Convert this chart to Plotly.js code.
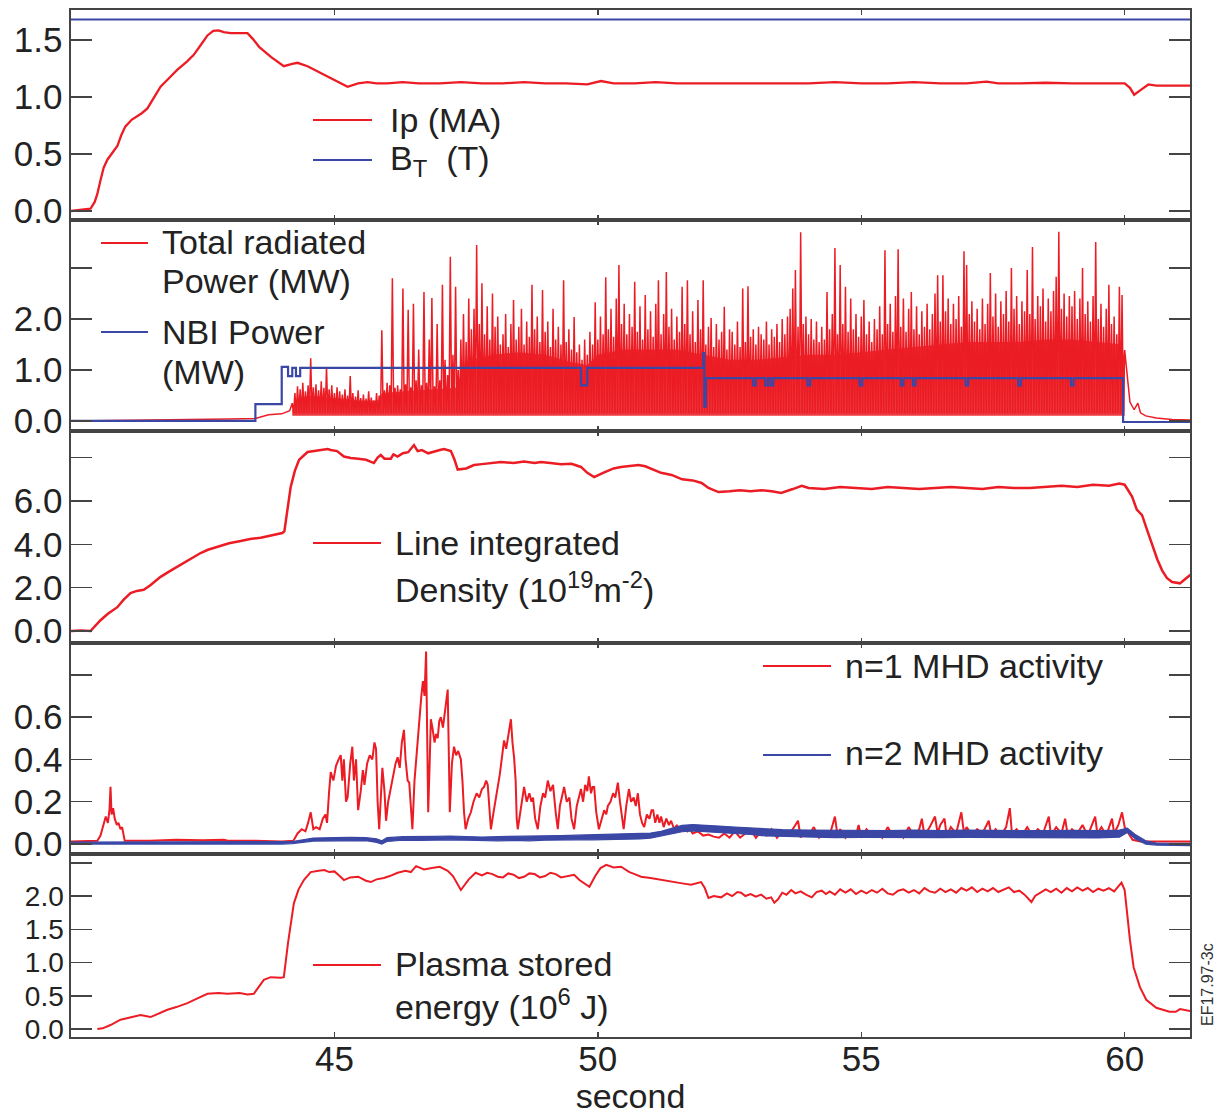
<!DOCTYPE html>
<html><head><meta charset="utf-8">
<script src="https://cdn.plot.ly/plotly-3.0.1.min.js"></script>
<style>html,body{margin:0;padding:0;background:#fff}#chart{width:1219px;height:1115px}</style>
</head><body><div id="chart"></div>
<script>
// ---------------- data ----------------
// Panel 1: plasma current Ip (MA), toroidal field BT (T)
const ipPts = [[40.0,0.0],[40.2,0.01],[40.37,0.02],[40.45,0.08],[40.5,0.15],[40.56,0.27],[40.62,0.38],[40.69,0.45],[40.8,0.52],[40.88,0.57],[40.95,0.66],[41.03,0.74],[41.15,0.80],[41.26,0.83],[41.35,0.86],[41.45,0.90],[41.58,1.00],[41.7,1.09],[41.85,1.16],[42.02,1.24],[42.2,1.31],[42.33,1.37],[42.5,1.48],[42.59,1.54],[42.7,1.58],[42.8,1.585],[42.9,1.57],[43.03,1.56],[43.2,1.56],[43.35,1.56],[43.45,1.51],[43.57,1.44],[43.8,1.35],[44.04,1.27],[44.2,1.29],[44.3,1.30],[44.49,1.27],[44.7,1.22],[44.9,1.17],[45.1,1.12],[45.25,1.09],[45.45,1.12],[45.63,1.13],[45.8,1.12],[46.0,1.12],[46.3,1.13],[46.6,1.12],[47.0,1.12],[47.4,1.13],[47.8,1.12],[48.2,1.12],[48.6,1.13],[49.0,1.12],[49.4,1.12],[49.8,1.11],[50.06,1.14],[50.3,1.12],[50.7,1.12],[51.1,1.13],[51.5,1.12],[52.0,1.12],[52.5,1.12],[53.0,1.125],[53.5,1.12],[54.0,1.12],[54.5,1.13],[55.0,1.12],[55.5,1.12],[56.0,1.13],[56.5,1.12],[57.0,1.12],[57.38,1.135],[57.6,1.12],[58.0,1.12],[58.5,1.125],[59.0,1.12],[59.5,1.12],[60.0,1.12],[60.1,1.08],[60.18,1.02],[60.3,1.06],[60.45,1.11],[60.6,1.10],[60.9,1.10],[61.25,1.10]];
const btPts = [[40.0,1.68],[61.25,1.68]];

// Panel 2: NBI power (MW), step signal
const nbiPts = [[40.0,0.0],[43.5,0.33],[44.0,1.06],[44.12,0.88],[44.2,1.04],[44.27,0.88],[44.35,1.04],[49.68,0.70],[49.8,1.04],[52.0,1.33],[52.02,0.28],[52.05,0.84],[52.95,0.70],[53.0,0.84],[53.18,0.70],[53.23,0.84],[53.28,0.70],[53.33,0.84],[53.98,0.70],[54.03,0.84],[54.97,0.70],[55.02,0.84],[55.75,0.70],[55.8,0.84],[55.98,0.70],[56.03,0.84],[56.98,0.70],[57.03,0.84],[57.98,0.70],[58.03,0.84],[58.98,0.70],[59.03,0.84],[59.97,-0.02],[61.25,-0.02]];

// Panel 2: total radiated power (MW)
const pradPre = [[40.0,0.0],[41.0,0.01],[42.0,0.02],[43.0,0.04],[43.5,0.05],[43.75,0.12],[44.0,0.14],[44.15,0.2]];
const pradStart = 44.2, pradStep = 0.05, pradFloor = 0.15;   // bursts sampled every 0.05 s
const pradPeaks = [
 0.35,0.55,0.68,0.62,0.75,0.58,0.70,1.23,0.66,0.72,0.60,0.78,0.65,1.06,0.62,0.70,0.55,0.66,0.58,0.52,
 0.62,0.50,0.88,0.55,0.48,0.60,0.45,0.52,0.44,0.58,0.46,0.40,0.55,0.50,1.78,0.60,0.75,0.70,2.80,0.65,
 0.70,0.62,2.60,0.72,2.18,0.66,2.30,0.80,1.40,0.70,2.53,0.75,1.60,2.41,0.68,1.90,0.80,2.67,1.20,0.90,
 3.22,1.30,2.63,1.00,1.60,2.10,1.55,2.40,1.80,2.20,3.45,1.90,2.70,1.70,2.25,1.60,2.50,1.85,2.05,1.50,
 1.70,2.10,1.45,1.90,2.37,1.60,1.85,2.20,1.50,1.95,1.65,2.67,1.80,2.05,1.55,2.57,1.75,1.95,1.45,2.20,
 1.60,1.85,1.50,2.76,1.55,1.80,1.40,2.04,1.35,1.50,1.20,1.60,1.30,1.75,1.50,2.33,1.60,2.05,1.70,2.82,
 1.80,2.20,1.65,2.40,3.06,1.90,2.30,1.70,2.10,1.85,2.73,1.75,2.25,1.60,2.47,1.80,2.15,1.65,2.30,2.76,
 1.70,2.10,2.92,1.85,2.20,1.60,2.05,1.75,2.63,1.90,2.76,1.70,2.15,1.55,2.37,1.80,2.76,1.50,1.85,2.02,
 1.45,1.90,1.60,1.75,2.24,1.40,1.80,1.75,1.50,1.95,1.45,2.60,1.55,2.64,1.65,1.80,1.50,1.85,1.70,1.60,
 1.95,1.50,1.80,1.65,1.90,1.55,2.00,1.70,2.05,2.20,2.60,2.96,1.85,3.70,1.90,2.05,1.70,2.00,1.60,1.95,
 1.55,1.85,1.60,2.53,1.80,2.10,3.39,1.70,3.06,1.90,2.63,1.75,2.40,1.80,2.10,1.65,2.05,2.37,1.70,1.95,
 1.55,2.00,1.80,2.25,1.70,3.35,1.90,2.30,1.75,2.45,3.37,1.85,2.40,1.75,2.20,2.53,1.80,2.25,1.70,2.15,
 1.85,2.30,1.80,2.10,2.50,2.86,1.95,2.86,2.15,2.40,1.90,2.30,2.00,2.45,1.85,3.33,3.06,2.10,2.35,1.95,
 2.20,1.80,2.40,1.90,2.30,2.90,2.05,2.50,1.85,2.35,2.10,2.55,1.95,3.00,2.20,2.45,1.90,2.35,2.15,2.96,
 2.10,3.41,2.00,2.45,2.25,2.60,1.95,2.40,2.15,2.55,2.83,3.71,2.20,2.50,2.05,2.45,2.25,2.55,2.00,2.40,
 3.00,2.10,2.35,1.95,2.45,3.51,2.00,2.30,1.85,2.20,2.67,1.90,2.05,1.70,2.63,2.47,1.39];
const pradTail = [[60.05,0.8],[60.1,0.37],[60.18,0.22],[60.25,0.35],[60.3,0.16],[60.4,0.1],[60.6,0.06],[60.9,0.03],[61.25,0.02]];
// level up to which the dense bursts look solid (upper edge), and its lower edge
const pradBody = [[44.2,0.2],[44.25,0.4],[44.5,0.5],[45.0,0.45],[45.5,0.4],[45.85,0.4],[45.9,0.55],[46.5,0.6],[47.3,0.65],[47.4,0.9],[47.6,1.2],[48.0,1.3],[48.5,1.35],[49.0,1.3],[49.5,1.15],[49.8,1.1],[50.0,1.3],[50.5,1.4],[51.0,1.4],[51.5,1.4],[52.0,1.3],[52.5,1.2],[53.0,1.2],[53.5,1.25],[54.0,1.3],[54.5,1.3],[55.0,1.35],[55.5,1.4],[56.0,1.45],[56.5,1.5],[57.0,1.55],[57.5,1.55],[58.0,1.55],[58.5,1.6],[59.0,1.6],[59.5,1.55],[59.95,1.5],[60.0,1.2]];
const pradBodyFloor = 0.1;

// Panel 3: line integrated density (1e19 m^-2)
const densPts = [[40.0,0.0],[40.2,0.02],[40.37,0.0],[40.45,0.2],[40.56,0.5],[40.7,0.8],[40.88,1.1],[41.0,1.45],[41.13,1.75],[41.25,1.85],[41.38,1.9],[41.5,2.1],[41.7,2.5],[41.9,2.8],[42.08,3.05],[42.3,3.35],[42.46,3.6],[42.6,3.75],[42.78,3.9],[43.0,4.05],[43.22,4.15],[43.4,4.25],[43.6,4.3],[43.8,4.42],[44.01,4.52],[44.05,4.6],[44.17,6.65],[44.25,7.4],[44.33,7.9],[44.49,8.26],[44.61,8.3],[44.75,8.38],[44.87,8.4],[44.93,8.35],[45.05,8.3],[45.18,8.05],[45.31,7.98],[45.45,7.95],[45.6,7.9],[45.75,7.75],[45.82,8.0],[45.88,8.12],[45.95,7.95],[46.07,7.95],[46.12,8.15],[46.2,8.05],[46.3,8.2],[46.4,8.25],[46.51,8.58],[46.58,8.3],[46.66,8.35],[46.78,8.2],[46.9,8.3],[47.0,8.35],[47.08,8.4],[47.21,8.3],[47.28,7.9],[47.34,7.45],[47.5,7.5],[47.65,7.66],[47.8,7.7],[48.0,7.75],[48.16,7.8],[48.4,7.75],[48.6,7.82],[48.8,7.75],[48.92,7.8],[49.1,7.75],[49.3,7.7],[49.5,7.72],[49.68,7.57],[49.8,7.3],[49.93,7.1],[50.1,7.3],[50.3,7.5],[50.44,7.57],[50.6,7.6],[50.77,7.66],[50.9,7.6],[51.0,7.5],[51.2,7.3],[51.4,7.2],[51.6,7.0],[51.8,6.95],[51.97,6.83],[52.1,6.6],[52.29,6.41],[52.5,6.45],[52.7,6.5],[52.9,6.45],[53.1,6.5],[53.3,6.45],[53.48,6.37],[53.7,6.55],[53.87,6.7],[54.0,6.6],[54.3,6.55],[54.6,6.65],[54.9,6.6],[55.2,6.55],[55.5,6.65],[55.8,6.6],[56.1,6.55],[56.4,6.6],[56.7,6.65],[57.0,6.6],[57.3,6.55],[57.6,6.65],[57.9,6.6],[58.2,6.6],[58.5,6.65],[58.8,6.7],[59.1,6.65],[59.4,6.75],[59.7,6.7],[59.9,6.8],[60.0,6.75],[60.14,6.2],[60.23,5.6],[60.33,5.35],[60.42,4.7],[60.52,4.0],[60.62,3.3],[60.71,2.8],[60.8,2.45],[60.9,2.26],[61.05,2.2],[61.15,2.4],[61.25,2.6]];

// Panel 4: n=1 MHD activity
const mhd1Pts = [[40.0,0.012],[40.3,0.012],[40.5,0.015],[40.56,0.04],[40.62,0.09],[40.66,0.13],[40.7,0.10],[40.73,0.16],[40.75,0.27],[40.77,0.14],[40.8,0.17],[40.83,0.12],[40.87,0.09],[40.9,0.10],[40.94,0.07],[40.97,0.08],[41.02,0.015],[41.5,0.015],[42.0,0.02],[42.5,0.018],[42.9,0.02],[43.0,0.015],[43.5,0.015],[44.0,0.012],[44.22,0.015],[44.3,0.05],[44.38,0.07],[44.45,0.06],[44.5,0.10],[44.55,0.15],[44.6,0.07],[44.65,0.08],[44.72,0.07],[44.78,0.12],[44.83,0.14],[44.86,0.10],[44.9,0.25],[44.93,0.34],[44.98,0.30],[45.03,0.37],[45.08,0.40],[45.12,0.42],[45.15,0.30],[45.18,0.40],[45.22,0.20],[45.25,0.22],[45.3,0.38],[45.34,0.46],[45.37,0.30],[45.41,0.40],[45.45,0.16],[45.5,0.25],[45.54,0.35],[45.57,0.28],[45.62,0.38],[45.67,0.42],[45.72,0.40],[45.76,0.48],[45.79,0.45],[45.82,0.20],[45.85,0.07],[45.88,0.22],[45.91,0.36],[45.95,0.25],[45.98,0.11],[46.02,0.20],[46.07,0.27],[46.11,0.33],[46.16,0.38],[46.2,0.41],[46.24,0.36],[46.28,0.48],[46.32,0.54],[46.35,0.40],[46.39,0.30],[46.42,0.29],[46.45,0.15],[46.48,0.07],[46.52,0.30],[46.55,0.40],[46.58,0.46],[46.62,0.62],[46.65,0.70],[46.68,0.77],[46.71,0.70],[46.74,0.91],[46.76,0.60],[46.78,0.15],[46.81,0.40],[46.83,0.59],[46.86,0.55],[46.9,0.48],[46.93,0.52],[46.96,0.50],[46.99,0.58],[47.02,0.60],[47.06,0.55],[47.1,0.62],[47.13,0.68],[47.15,0.73],[47.17,0.45],[47.19,0.15],[47.23,0.38],[47.27,0.46],[47.31,0.42],[47.35,0.44],[47.4,0.40],[47.43,0.30],[47.46,0.15],[47.49,0.07],[47.54,0.12],[47.59,0.15],[47.64,0.20],[47.7,0.24],[47.75,0.22],[47.8,0.26],[47.84,0.27],[47.88,0.30],[47.91,0.28],[47.94,0.15],[47.97,0.07],[48.02,0.15],[48.06,0.22],[48.1,0.27],[48.14,0.33],[48.18,0.40],[48.22,0.49],[48.26,0.45],[48.3,0.52],[48.33,0.56],[48.35,0.59],[48.38,0.48],[48.41,0.41],[48.44,0.30],[48.46,0.12],[48.48,0.07],[48.53,0.16],[48.57,0.22],[48.6,0.27],[48.65,0.20],[48.7,0.24],[48.74,0.20],[48.77,0.22],[48.81,0.12],[48.86,0.07],[48.91,0.18],[48.96,0.24],[49.0,0.22],[49.05,0.30],[49.1,0.25],[49.15,0.28],[49.2,0.15],[49.24,0.07],[49.28,0.18],[49.32,0.22],[49.36,0.27],[49.41,0.20],[49.46,0.22],[49.5,0.12],[49.55,0.07],[49.6,0.18],[49.64,0.22],[49.68,0.26],[49.72,0.20],[49.76,0.28],[49.8,0.25],[49.83,0.32],[49.87,0.24],[49.9,0.27],[49.93,0.27],[49.97,0.15],[50.02,0.07],[50.07,0.12],[50.12,0.16],[50.16,0.14],[50.19,0.18],[50.24,0.20],[50.29,0.24],[50.33,0.22],[50.38,0.29],[50.42,0.20],[50.46,0.12],[50.49,0.07],[50.54,0.18],[50.59,0.26],[50.63,0.20],[50.68,0.22],[50.72,0.18],[50.76,0.24],[50.8,0.14],[50.84,0.10],[50.88,0.08],[50.93,0.14],[50.98,0.12],[51.02,0.16],[51.05,0.16],[51.09,0.10],[51.13,0.14],[51.17,0.10],[51.2,0.13],[51.25,0.08],[51.3,0.12],[51.35,0.09],[51.39,0.11],[51.45,0.07],[51.5,0.09],[51.55,0.06],[51.6,0.08],[51.64,0.08],[51.7,0.06],[51.75,0.07],[51.8,0.05],[51.9,0.06],[52.0,0.04],[52.1,0.045],[52.2,0.035],[52.3,0.03],[52.4,0.05],[52.5,0.03],[52.6,0.06],[52.7,0.03],[52.8,0.05],[52.9,0.07],[53.0,0.03],[53.1,0.06],[53.2,0.04],[53.3,0.07],[53.4,0.03],[53.5,0.06],[53.6,0.04],[53.7,0.07],[53.8,0.11],[53.85,0.03],[53.9,0.06],[54.0,0.04],[54.1,0.08],[54.2,0.03],[54.3,0.06],[54.4,0.04],[54.5,0.13],[54.55,0.04],[54.6,0.07],[54.7,0.03],[54.8,0.06],[54.9,0.04],[54.95,0.09],[55.0,0.03],[55.1,0.07],[55.2,0.04],[55.3,0.06],[55.4,0.03],[55.5,0.08],[55.6,0.04],[55.7,0.06],[55.8,0.03],[55.9,0.08],[56.0,0.04],[56.1,0.07],[56.15,0.12],[56.2,0.04],[56.3,0.08],[56.4,0.13],[56.45,0.05],[56.5,0.09],[56.58,0.12],[56.62,0.04],[56.7,0.08],[56.8,0.05],[56.9,0.15],[56.95,0.05],[57.0,0.08],[57.1,0.04],[57.2,0.07],[57.3,0.05],[57.42,0.11],[57.47,0.04],[57.55,0.07],[57.65,0.04],[57.75,0.08],[57.82,0.17],[57.86,0.05],[57.95,0.07],[58.05,0.04],[58.15,0.08],[58.25,0.04],[58.35,0.07],[58.45,0.05],[58.56,0.13],[58.6,0.04],[58.7,0.08],[58.8,0.05],[58.87,0.12],[58.92,0.04],[59.0,0.07],[59.1,0.05],[59.2,0.09],[59.3,0.04],[59.44,0.13],[59.48,0.05],[59.56,0.08],[59.65,0.04],[59.76,0.12],[59.8,0.05],[59.88,0.09],[59.95,0.15],[60.0,0.08],[60.05,0.06],[60.15,0.02],[60.3,0.012],[60.6,0.012],[61.25,0.012]];

// Panel 4: n=2 MHD activity, noisy band given as [time, upper, lower]
const mhd2Band = [[40.0,0.009,0.0],[41.0,0.009,0.0],[42.0,0.009,0.0],[43.0,0.009,0.0],[44.0,0.009,0.0],[44.2,0.012,0.002],[44.4,0.02,0.008],[44.6,0.028,0.014],[45.0,0.03,0.015],[45.3,0.032,0.016],[45.6,0.03,0.016],[45.8,0.025,0.008],[45.9,0.015,0.0],[46.0,0.03,0.012],[46.3,0.035,0.018],[46.6,0.034,0.017],[46.9,0.036,0.018],[47.2,0.038,0.02],[47.5,0.035,0.018],[47.8,0.033,0.015],[48.1,0.035,0.015],[48.4,0.036,0.017],[48.7,0.035,0.015],[49.0,0.038,0.018],[49.3,0.04,0.02],[49.6,0.042,0.02],[49.9,0.044,0.02],[50.2,0.045,0.021],[50.5,0.046,0.022],[50.8,0.048,0.024],[51.0,0.052,0.028],[51.2,0.06,0.035],[51.4,0.075,0.048],[51.6,0.088,0.058],[51.8,0.092,0.062],[52.0,0.09,0.06],[52.3,0.085,0.055],[52.6,0.08,0.05],[52.9,0.075,0.045],[53.2,0.07,0.038],[53.5,0.068,0.035],[54.0,0.066,0.032],[54.5,0.065,0.03],[55.0,0.067,0.031],[55.5,0.064,0.03],[56.0,0.066,0.031],[56.5,0.064,0.03],[57.0,0.066,0.031],[57.5,0.064,0.03],[58.0,0.065,0.03],[58.5,0.063,0.029],[59.0,0.065,0.03],[59.5,0.063,0.029],[59.9,0.066,0.032],[60.05,0.075,0.055],[60.2,0.045,0.025],[60.4,0.015,0.0],[60.6,0.005,-0.005],[61.25,0.003,-0.008]];

// Panel 5: plasma stored energy (1e6 J)
const wPts = [[40.5,0.0],[40.6,0.01],[40.75,0.06],[40.94,0.14],[41.1,0.17],[41.32,0.21],[41.51,0.18],[41.65,0.23],[41.83,0.29],[42.0,0.33],[42.21,0.39],[42.4,0.46],[42.59,0.53],[42.8,0.54],[42.97,0.53],[43.2,0.54],[43.35,0.52],[43.47,0.53],[43.58,0.65],[43.66,0.74],[43.79,0.78],[43.98,0.77],[44.04,0.78],[44.12,1.3],[44.23,1.89],[44.32,2.1],[44.42,2.24],[44.55,2.36],[44.7,2.38],[44.81,2.39],[44.9,2.36],[45.0,2.37],[45.1,2.3],[45.18,2.24],[45.3,2.28],[45.45,2.29],[45.6,2.23],[45.69,2.21],[45.8,2.25],[45.94,2.27],[46.05,2.3],[46.2,2.35],[46.35,2.38],[46.45,2.36],[46.55,2.45],[46.7,2.4],[46.85,2.42],[47.0,2.44],[47.15,2.38],[47.25,2.3],[47.4,2.09],[47.55,2.25],[47.68,2.35],[47.8,2.31],[47.9,2.35],[48.0,2.33],[48.1,2.29],[48.2,2.28],[48.3,2.34],[48.4,2.32],[48.5,2.27],[48.6,2.29],[48.7,2.34],[48.8,2.33],[48.9,2.28],[49.0,2.3],[49.1,2.35],[49.2,2.33],[49.3,2.28],[49.4,2.3],[49.55,2.32],[49.65,2.24],[49.75,2.18],[49.84,2.14],[49.95,2.3],[50.05,2.42],[50.16,2.47],[50.3,2.43],[50.44,2.44],[50.6,2.36],[50.7,2.33],[50.82,2.29],[51.0,2.27],[51.2,2.24],[51.4,2.22],[51.6,2.19],[51.77,2.17],[51.96,2.21],[52.03,2.12],[52.1,1.97],[52.2,2.0],[52.34,1.98],[52.45,2.04],[52.55,2.0],[52.65,2.06],[52.72,2.05],[52.8,2.0],[52.9,2.03],[53.0,1.99],[53.1,2.02],[53.2,1.96],[53.29,1.98],[53.35,1.9],[53.42,1.95],[53.5,2.05],[53.58,2.02],[53.67,2.09],[53.75,2.04],[53.85,2.07],[53.95,2.02],[54.06,1.98],[54.15,2.06],[54.25,2.08],[54.33,2.03],[54.4,2.07],[54.5,2.02],[54.6,2.1],[54.7,2.05],[54.8,2.1],[54.9,2.03],[55.0,2.08],[55.1,2.04],[55.2,2.09],[55.3,2.05],[55.4,2.11],[55.5,2.04],[55.6,2.02],[55.7,2.08],[55.8,2.1],[55.9,2.05],[56.0,2.09],[56.1,2.04],[56.2,2.12],[56.3,2.07],[56.4,2.05],[56.5,2.11],[56.6,2.06],[56.7,2.1],[56.8,2.05],[56.9,2.12],[57.0,2.08],[57.1,2.13],[57.2,2.06],[57.3,2.11],[57.4,2.07],[57.5,2.12],[57.6,2.06],[57.7,2.1],[57.8,2.13],[57.9,2.06],[58.0,2.08],[58.1,2.02],[58.23,1.91],[58.3,2.0],[58.4,2.05],[58.5,2.1],[58.6,2.06],[58.7,2.11],[58.8,2.05],[58.9,2.12],[59.0,2.07],[59.1,2.13],[59.2,2.08],[59.3,2.12],[59.4,2.06],[59.5,2.11],[59.6,2.08],[59.7,2.12],[59.8,2.07],[59.88,2.14],[59.94,2.2],[60.0,2.09],[60.1,1.34],[60.17,0.93],[60.29,0.63],[60.41,0.44],[60.6,0.32],[60.85,0.26],[60.97,0.26],[61.05,0.3],[61.25,0.27]];

// axis ticks (labelled ticks, plus unlabelled top ticks)
const xTicks = [45, 50, 55, 60];
const y1Ticks = [0, 0.5, 1.0, 1.5],      y1Text = ['0.0','0.5','1.0','1.5'], y1Extra = [];
const y2Ticks = [0, 1, 2],               y2Text = ['0.0','1.0','2.0'],       y2Extra = [3];
const y3Ticks = [0, 2, 4, 6],            y3Text = ['0.0','2.0','4.0','6.0'], y3Extra = [8];
const y4Ticks = [0, 0.2, 0.4, 0.6],      y4Text = ['0.0','0.2','0.4','0.6'], y4Extra = [0.8];
const y5Ticks = [0, 0.5, 1.0, 1.5, 2.0], y5Text = ['0.0','0.5','1.0','1.5','2.0'], y5Extra = [2.5];

// ---------------- build ----------------
const RED = '#ec1c24', BLUE = '#3a47a5', INK = '#222', FRAME = '#444';
const FONT = 'Liberation Sans, Arial, sans-serif';
const xs = p => p.map(d => d[0]), ys = p => p.map(d => d[1]);

// radiated power trace: pre-phase, bursts (peak then floor), tail
const pradX = xs(pradPre), pradY = ys(pradPre);
pradPeaks.forEach((v, i) => {
  const t = pradStart + i * pradStep;
  pradX.push(t); pradY.push(v);
  if (i < pradPeaks.length - 1) { pradX.push(t + pradStep / 2); pradY.push(pradFloor); }
});
pradTail.forEach(d => { pradX.push(d[0]); pradY.push(d[1]); });
const bodyX = xs(pradBody).concat(xs(pradBody).reverse());
const bodyY = ys(pradBody).concat(pradBody.map(() => pradBodyFloor));

const bandX = mhd2Band.map(d => d[0]).concat(mhd2Band.map(d => d[0]).reverse());
const bandY = mhd2Band.map(d => d[1]).concat(mhd2Band.map(d => d[2]).reverse());

const line = (c, w) => ({color: c, width: w});
const traces = [
  {x: xs(ipPts), y: ys(ipPts), xaxis:'x', yaxis:'y', mode:'lines', line: line(RED, 2.3)},
  {x: xs(btPts), y: ys(btPts), xaxis:'x', yaxis:'y', mode:'lines', line: line(BLUE, 2)},
  {x: bodyX, y: bodyY, xaxis:'x2', yaxis:'y2', mode:'none', fill:'toself', fillcolor:'rgba(236,28,36,0.88)'},
  {x: pradX, y: pradY, xaxis:'x2', yaxis:'y2', mode:'lines', line: line(RED, 1.5)},
  {x: xs(nbiPts), y: ys(nbiPts), xaxis:'x2', yaxis:'y2', mode:'lines', line: {color: BLUE, width: 2.2, shape: 'hv'}},
  {x: xs(densPts), y: ys(densPts), xaxis:'x3', yaxis:'y3', mode:'lines', line: line(RED, 2.5)},
  {x: xs(mhd1Pts), y: ys(mhd1Pts), xaxis:'x4', yaxis:'y4', mode:'lines', line: line(RED, 2)},
  {x: bandX, y: bandY, xaxis:'x4', yaxis:'y4', mode:'lines', fill:'toself', fillcolor: BLUE, line: line(BLUE, 1.2)},
  {x: xs(wPts), y: ys(wPts), xaxis:'x5', yaxis:'y5', mode:'lines', line: line(RED, 2)}
];

const W = 1219, H = 1115, ML = 71, MR = 29, MT = 10, MB = 78;
const px = v => (v - ML) / (W - ML - MR);
const py = v => (H - MB - v) / (H - MT - MB);

const xBase = (anchor, labels) => ({
  range: [40, 61.24], anchor: anchor, domain: [0, 1], tickvals: xTicks, ticktext: xTicks.map(String),
  ticks: 'inside', ticklen: 5, tickwidth: 1.5, tickcolor: FRAME, mirror: 'ticks',
  showline: true, linecolor: FRAME, linewidth: 1.6, showgrid: false, zeroline: false,
  showticklabels: labels, tickfont: {family: FONT, size: 35, color: INK}, ticklabelstandoff: -10
});
const yBase = (dom, rng, tv, tt, extra, anchor, fs) => ({
  domain: dom, range: rng, anchor: anchor, tickvals: tv, ticktext: tt,
  ticks: 'inside', ticklen: 21, tickwidth: 1.5, tickcolor: FRAME, mirror: 'ticks',
  minor: {tickmode: 'array', tickvals: extra, ticks: 'inside', ticklen: 21, tickwidth: 1.5, tickcolor: FRAME, showgrid: false},
  showline: true, linecolor: FRAME, linewidth: 1.6, showgrid: false, zeroline: false,
  tickfont: {family: FONT, size: fs, color: INK}
});

const layout = {
  width: W, height: H, margin: {l: ML, r: MR, t: MT, b: MB},
  paper_bgcolor: '#fff', plot_bgcolor: '#fff', showlegend: false,
  font: {family: FONT, color: INK},
  xaxis:  xBase('y', false),
  xaxis2: xBase('y2', false),
  xaxis3: xBase('y3', false),
  xaxis4: xBase('y4', false),
  xaxis5: Object.assign(xBase('y5', true), {title: {text: 'second', font: {family: FONT, size: 34, color: INK}, standoff: 4}}),
  yaxis:  yBase([0.7955, 1.0],    [-0.079, 1.763], y1Ticks, y1Text, y1Extra, 'x', 35),
  yaxis2: yBase([0.5901, 0.7955], [-0.196, 3.941], y2Ticks, y2Text, y2Extra, 'x2', 35),
  yaxis3: yBase([0.3836, 0.5901], [-0.554, 9.23],  y3Ticks, y3Text, y3Extra, 'x3', 35),
  yaxis4: yBase([0.1782, 0.3836], [-0.047, 0.950], y4Ticks, y4Text, y4Extra, 'x4', 35),
  yaxis5: yBase([0, 0.1782],      [-0.12, 2.632],  y5Ticks, y5Text, y5Extra, 'x5', 28),
  shapes: [], annotations: []
};

// legend keys: [x0, x1, y, color]
const keys = [[313,372,120,RED],[313,372,160,BLUE],[101,148,243,RED],[101,148,332,BLUE],[313,381,543,RED],[763,831,666,RED],[763,831,755,BLUE],[313,381,965,RED]];
keys.forEach(k => layout.shapes.push({type:'line', xref:'paper', yref:'paper', x0: px(k[0]), x1: px(k[1]), y0: py(k[2]), y1: py(k[2]), line: {color: k[3], width: 2}}));
// legend texts: [x, y, text]
const texts = [[388,120,'Ip (MA)'],[388,160,'B<sub>T</sub>\u00a0 (T)'],
  [160,242,'Total radiated'],[160,281,'Power (MW)'],[160,332,'NBI Power'],[160,372,'(MW)'],
  [393,543,'Line integrated'],[393,587,'Density (10<sup>19</sup>m<sup>-2</sup>)'],
  [843,666,'n=1 MHD activity'],[843,753,'n=2 MHD activity'],
  [393,964,'Plasma stored'],[393,1004,'energy (10<sup>6</sup> J)']];
texts.forEach(t => layout.annotations.push({xref:'paper', yref:'paper', x: px(t[0]), y: py(t[1]), xanchor:'left', yanchor:'middle', showarrow:false, text: t[2], font: {family: FONT, size: 34, color: INK}}));
layout.annotations.push({xref:'paper', yref:'paper', x: px(1207), y: py(985), xanchor:'center', yanchor:'middle', textangle:-90, showarrow:false, text:'EF17.97-3c', font:{family: FONT, size: 16, color: '#333'}});

Plotly.newPlot('chart', traces, layout, {displayModeBar: false, staticPlot: true});
</script>
</body></html>
